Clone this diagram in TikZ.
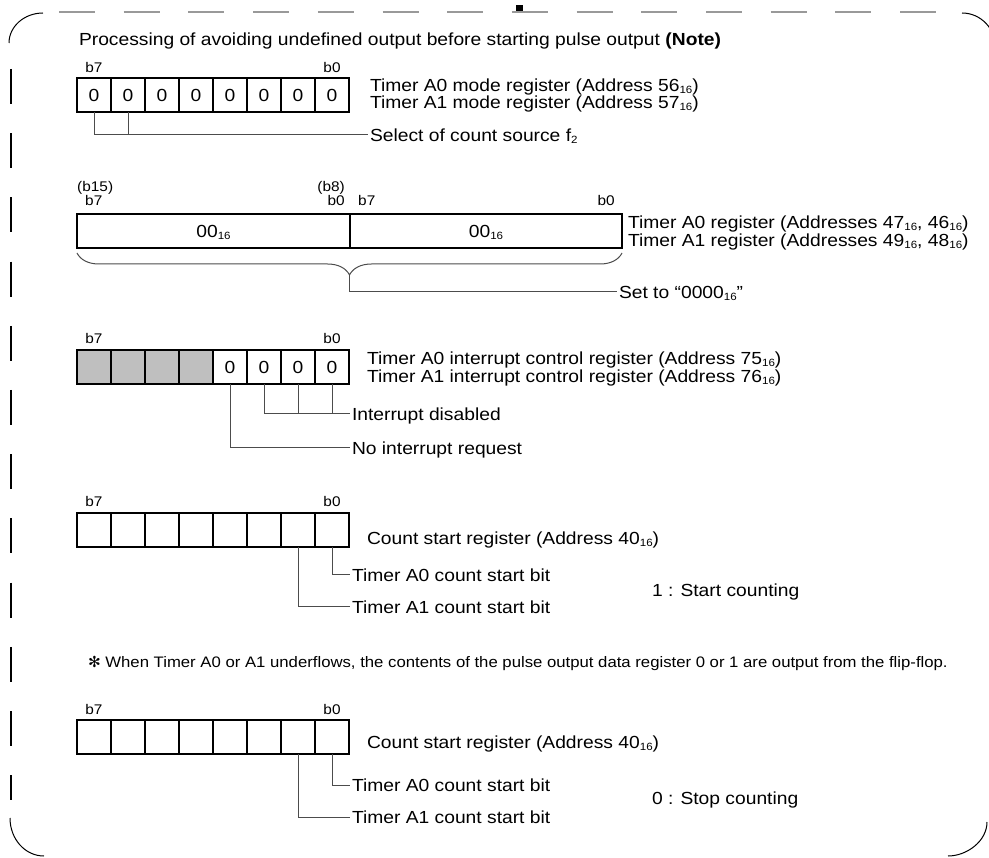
\documentclass[tikz,border=0pt]{standalone}
\usepackage{fontspec}
\setmainfont{Liberation Sans}[FakeStretch=1.1]
\newfontfamily\symfont{DejaVu Sans}
\usetikzlibrary{decorations.pathreplacing}
\newcommand\hexs[1]{\raisebox{-0.14em}{\fontsize{10.5}{11}\selectfont #1}}
\begin{document}
\begin{tikzpicture}[x=1pt,y=-1pt,
  txt/.style={font=\fontsize{17.5}{21}\selectfont, text height=12.5pt, text depth=0pt, inner xsep=2pt, inner ysep=0pt, outer sep=0pt, anchor=west},
  bitlab/.style={font=\fontsize{14}{17}\selectfont, inner sep=0pt, anchor=base},
  cell/.style={draw, line width=1.3pt, minimum width=34pt, minimum height=34pt, inner sep=0pt, outer sep=0pt, font=\fontsize{17.5}{21}\selectfont, text height=12.5pt, text depth=0pt},
  reserved/.style={cell, fill=black!25},
  conn/.style={line width=1pt, black!70},
  border/.style={line width=2pt}
]
\useasboundingbox (0,0) rectangle (989,858);
% frame
\draw[black!40, line width=1.5pt, dash pattern=on 36pt off 28.7pt] (59,12) -- (941,12);
\fill (516,5) rectangle (523,11);
\draw[line width=1.2pt, dash pattern=on 35pt off 29.2pt] (11,69) -- (11,800);
\draw[line width=1pt] (9,43) .. controls (9,26.5) and (24.3,13) .. (43,13);
\draw[line width=1pt] (962,13) .. controls (981,13) and (996,29) .. (996,49);
\draw[line width=1pt] (10,818) .. controls (10,839) and (25,856) .. (44,856);
\draw[line width=1pt] (948,856) .. controls (967,856) and (987,841) .. (987,822);
% title
\node[txt] (title) at (77,39.5) {Processing of avoiding undefined output before starting pulse output \textbf{(Note)}};
% register 1
\foreach \i in {1,...,8} \node[cell] (a\i) at ({60+34*\i},95.5) {0};
\draw[border] (a1.north west) rectangle (a8.south east);
\node[bitlab] (a1b7) at (94,73) {b7};
\node[bitlab] (a1b0) at (332,73) {b0};
\node[txt] (amode0) at (368,85) {Timer A0 mode register (Address 56\hexs{16})};
\node[txt] (amode1) at (368,102) {Timer A1 mode register (Address 57\hexs{16})};
\node[txt] (sel) at (368,135) {Select of count source f\hexs{2}};
\draw[conn] (a1.south) |- (sel.west);
\draw[conn] (a2.south) -- (a2.south |- sel.west);
% register 2
\node[bitlab, anchor=base west] (b15) at (77,192) {(b15)};
\node[bitlab, anchor=base west] (bb7a) at (85,206) {b7};
\node[bitlab, anchor=base east] (b8) at (345,192) {(b8)};
\node[bitlab, anchor=base east] (bb0a) at (345,206) {b0};
\node[bitlab, anchor=base west] (bb7b) at (358,206) {b7};
\node[bitlab, anchor=base east] (bb0b) at (615,206) {b0};
\node[cell, minimum width=273pt] (lo) at (213.5,231) {00\hexs{16}};
\node[cell, minimum width=272pt] (hi) at (486,231) {00\hexs{16}};
\draw[border] (lo.north west) rectangle (hi.south east);
\node[txt] (breg0) at (626,222) {Timer A0 register (Addresses 47\hexs{16}, 46\hexs{16})};
\node[txt] (breg1) at (626,240) {Timer A1 register (Addresses 49\hexs{16}, 48\hexs{16})};
\coordinate (brR) at (622,253);
\coordinate (brL) at (77,253);
\draw[conn, decorate, decoration={brace, amplitude=22pt}] (brR) -- (brL);
\coordinate (cusp) at (349.5,275);
\node[txt] (setto) at (617,292) {Set to “0000\hexs{16}”};
\draw[conn] (cusp) |- (setto.west);
% register 3
\foreach \i in {1,...,4} \node[reserved] (c\i) at ({60+34*\i},367) {};
\foreach \i in {5,...,8} \node[cell] (c\i) at ({60+34*\i},367) {0};
\draw[border] (c1.north west) rectangle (c8.south east);
\node[bitlab] (c1b7) at (94,344) {b7};
\node[bitlab] (c1b0) at (332,344) {b0};
\node[txt] (cint0) at (365,358) {Timer A0 interrupt control register (Address 75\hexs{16})};
\node[txt] (cint1) at (365,376) {Timer A1 interrupt control register (Address 76\hexs{16})};
\node[txt] (dis) at (350,414) {Interrupt disabled};
\node[txt] (noreq) at (350,448) {No interrupt request};
\draw[conn] (c6.south) |- (dis.west);
\draw[conn] (c7.south) -- (c7.south |- dis.west);
\draw[conn] (c8.south) -- (c8.south |- dis.west);
\draw[conn] (c5.south) |- (noreq.west);
% register 4
\foreach \i in {1,...,8} \node[cell] (d\i) at ({60+34*\i},530) {};
\draw[border] (d1.north west) rectangle (d8.south east);
\node[bitlab] (d1b7) at (94,507) {b7};
\node[bitlab] (d1b0) at (332,507) {b0};
\node[txt] (dcnt) at (365,538) {Count start register (Address 40\hexs{16})};
\node[txt] (da0) at (350,575) {Timer A0 count start bit};
\node[txt] (da1) at (350,607) {Timer A1 count start bit};
\node[txt] (dstart) at (650,590) {1 : Start counting};
\draw[conn] (d8.south) |- (da0.west);
\draw[conn] (d7.south) |- (da1.west);
% note
\node[txt, font=\fontsize{15.2}{19}\selectfont, text height=10.9pt] (note) at (86,662) {{\symfont\bfseries ✻} When Timer A0 or A1 underflows, the contents of the pulse output data register 0 or 1 are output from the flip-flop.};
% register 5
\foreach \i in {1,...,8} \node[cell] (e\i) at ({60+34*\i},737) {};
\draw[border] (e1.north west) rectangle (e8.south east);
\node[bitlab] (e1b7) at (94,714) {b7};
\node[bitlab] (e1b0) at (332,714) {b0};
\node[txt] (ecnt) at (365,742) {Count start register (Address 40\hexs{16})};
\node[txt] (ea0) at (350,785) {Timer A0 count start bit};
\node[txt] (ea1) at (350,817) {Timer A1 count start bit};
\node[txt] (estop) at (650,798) {0 : Stop counting};
\draw[conn] (e8.south) |- (ea0.west);
\draw[conn] (e7.south) |- (ea1.west);
\end{tikzpicture}
\end{document}
